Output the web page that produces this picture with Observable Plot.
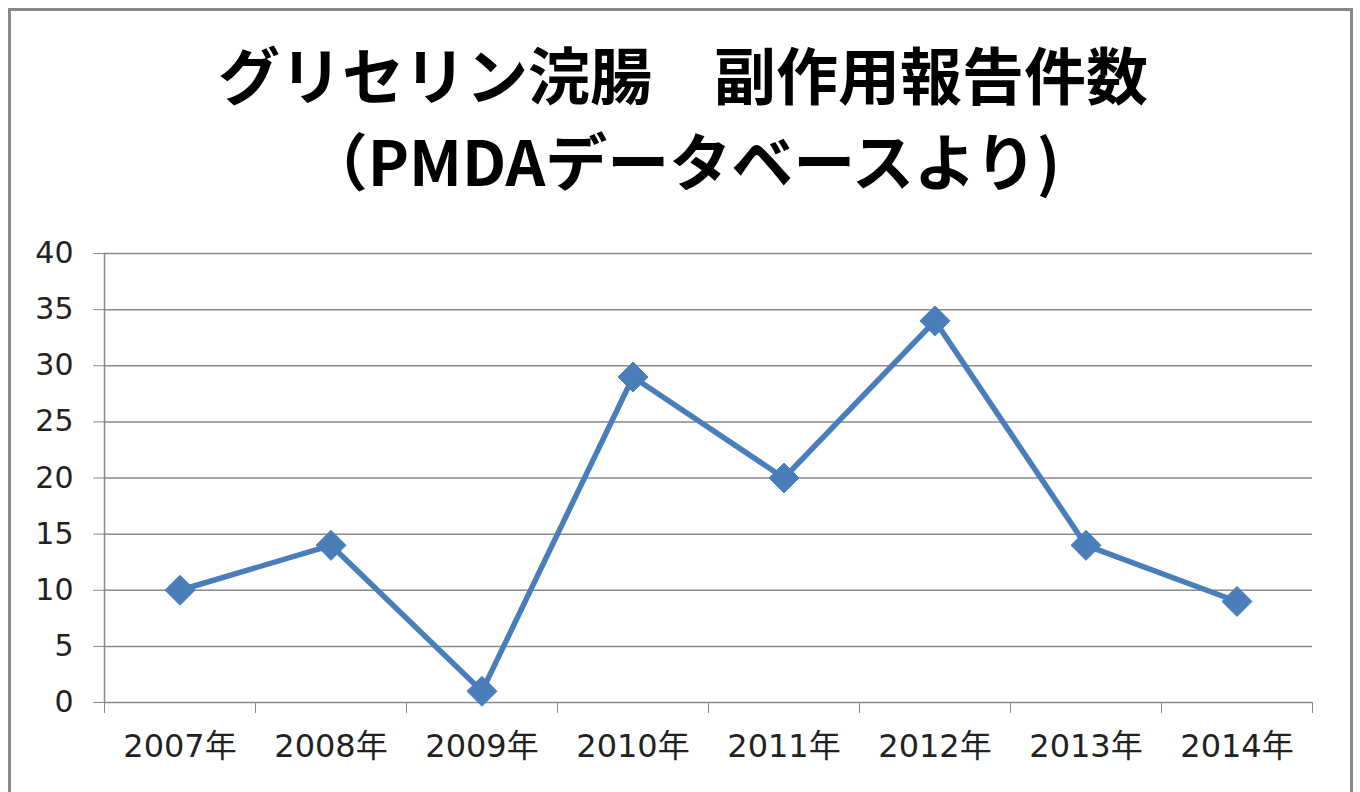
<!DOCTYPE html>
<html><head><meta charset="utf-8">
<script src="https://cdn.jsdelivr.net/npm/d3@7"></script>
<script src="https://cdn.jsdelivr.net/npm/@observablehq/plot@0.6"></script>
<style>
html,body{margin:0;padding:0;background:#fff;overflow:hidden;}
#wrap{position:relative;width:1360px;height:792px;font-family:"Noto Sans CJK JP",sans-serif;}
#frame{position:absolute;left:8px;top:8px;width:1339px;height:820px;border:3px solid #898989;box-sizing:content-box;}
#title{position:absolute;left:0;top:30px;width:1366px;text-align:center;font-weight:bold;font-size:62px;line-height:86px;color:#000;white-space:nowrap;}
#chart{position:absolute;left:0;top:220px;}
</style></head>
<body><div id="wrap"><div id="frame"></div>
<div id="title">グリセリン浣腸　副作用報告件数<br>（PMDAデータベースより)</div>
<div id="chart"></div></div>
<script>
const years = ["2007年","2008年","2009年","2010年","2011年","2012年","2013年","2014年"];
const counts = [10, 14, 1, 29, 20, 34, 14, 9];
const yTicks = [0, 5, 10, 15, 20, 25, 30, 35, 40];

const data = years.map((y, i) => ({pos: i + 0.5, year: y, count: counts[i]}));
const boundaries = d3.range(0, years.length + 1);
const centers = years.map((_, i) => i + 0.5);
const grey = "#898989";
const blue = "#4A7EBB";
const axisFont = '"DejaVu Sans", "Noto Sans CJK JP", sans-serif';

const chart = Plot.plot({
  width: 1360,
  height: 572,
  marginLeft: 104,
  marginRight: 48,
  marginTop: 33,
  marginBottom: 90,
  style: {fontFamily: axisFont, fontSize: "30px", color: "#222", background: "transparent"},
  x: {type: "linear", domain: [0, years.length]},
  y: {domain: [0, 40]},
  marks: [
    Plot.ruleY(yTicks, {stroke: grey, strokeWidth: 1.5}),
    Plot.ruleX([0], {stroke: grey, strokeWidth: 1.5}),
    Plot.axisY({ticks: yTicks, tickSize: 11, tickPadding: 20, stroke: grey, label: null, fill: "#222", fontSize: 30, tickFormat: d => String(d)}),
    Plot.axisX({ticks: boundaries, tickSize: 11, tickFormat: () => "", stroke: grey, label: null}),
    Plot.axisX({ticks: centers, tickSize: 0, tickPadding: 32, tickFormat: d => years[Math.round(d - 0.5)], label: null, fill: "#222", fontSize: 32}),
    Plot.line(data, {x: "pos", y: "count", stroke: blue, strokeWidth: 5.5}),
    Plot.dot(data, {x: "pos", y: "count", symbol: "diamond2", r: 13.5, fill: blue, stroke: blue, strokeWidth: 1})
  ]
});
document.getElementById("chart").appendChild(chart);
</script></body></html>
